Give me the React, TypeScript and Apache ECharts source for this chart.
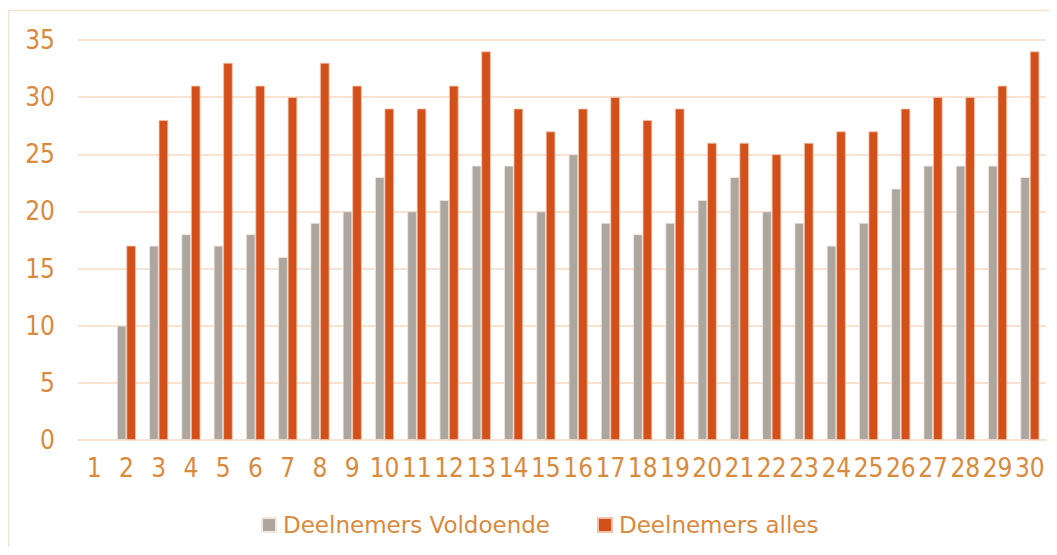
import React, { useEffect, useRef } from "react";
import * as echarts from "echarts";

const categories = ["1","2","3","4","5","6","7","8","9","10","11","12","13","14","15","16","17","18","19","20","21","22","23","24","25","26","27","28","29","30"];
const voldoende = [null,10,17,18,17,18,16,19,20,23,20,21,24,24,20,25,19,18,19,21,23,20,19,17,19,22,24,24,24,23];
const alles = [null,17,28,31,33,31,30,33,31,29,29,31,34,29,27,29,30,28,29,26,26,25,26,27,27,29,30,30,31,34];
const seriesNames = ["Deelnemers Voldoende", "Deelnemers alles"];

const textColor = "#D98A3D";
const gridColor = "#F7E3CF";
const font = "DejaVu Sans, Verdana, sans-serif";
const axisFont = "DejaVu Sans Condensed, Liberation Sans Narrow, DejaVu Sans, sans-serif";

export default function App() {
  const ref = useRef<HTMLDivElement>(null);
  useEffect(() => {
    if (!ref.current) return;
    const chart = echarts.init(ref.current, null, { renderer: "svg" });
    chart.setOption({
      animation: false,
      graphic: [
        {
          type: "rect",
          shape: { x: 0.5, y: 2.5, width: 1100, height: 700 },
          style: { fill: "none", stroke: "#F6E1CC", lineWidth: 1.5 },
          silent: true,
        },
      ],
      grid: { left: 70, right: 3, top: 32, bottom: 107, containLabel: false },
      legend: {
        left: 253,
        top: 505,
        padding: 0,
        itemWidth: 14,
        itemHeight: 14,
        itemGap: 47,
        icon: "rect",
        textStyle: { color: textColor, fontSize: 23, lineHeight: 24, fontFamily: font, padding: [0, 0, 0, 2] },
        data: seriesNames,
      },
      xAxis: {
        type: "category",
        data: categories,
        axisLine: { lineStyle: { color: gridColor, width: 2 } },
        axisTick: { show: false },
        axisLabel: { interval: 0, color: textColor, fontSize: 26, fontFamily: axisFont, margin: 15 },
      },
      yAxis: {
        type: "value",
        min: 0,
        max: 35,
        interval: 5,
        axisLine: { show: false },
        axisTick: { show: false },
        splitLine: { lineStyle: { color: gridColor, width: 2 } },
        axisLabel: { color: textColor, fontSize: 26, fontFamily: axisFont, margin: 23 },
      },
      series: [
        {
          name: seriesNames[0],
          type: "bar",
          data: voldoende,
          barWidth: 9.5,
          barGap: "0%",
          itemStyle: { color: "#ADA69F", borderColor: "#F3E7DE", borderWidth: 0.8 },
        },
        {
          name: seriesNames[1],
          type: "bar",
          data: alles,
          barWidth: 9.5,
          barGap: "0%",
          itemStyle: { color: "#D4501A", borderColor: "#F2C2AA", borderWidth: 0.8 },
        },
      ],
    });
    return () => chart.dispose();
  }, []);
  return <div ref={ref} style={{ width: 1041, height: 539 }} />;
}
